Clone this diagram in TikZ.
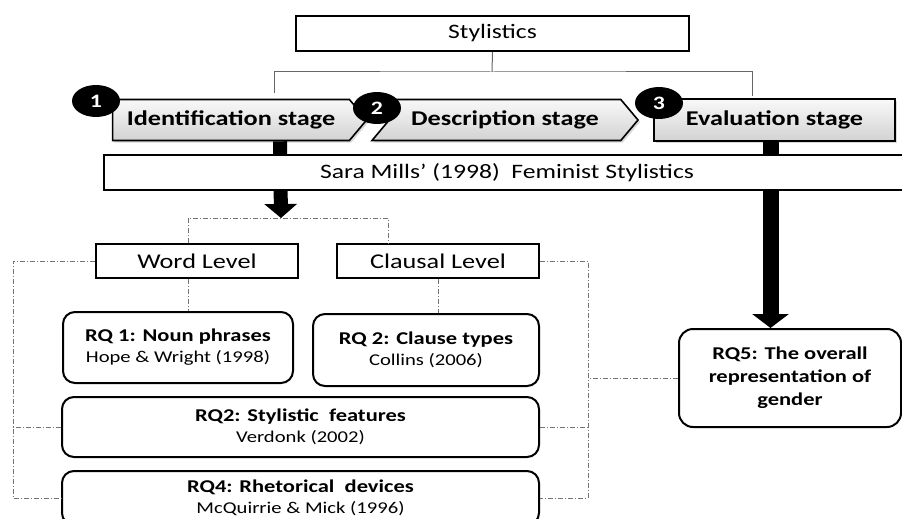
\documentclass[tikz,border=0pt]{standalone}
\usepackage{fontspec}
\setmainfont{Carlito}[FakeStretch=1.25]
\usetikzlibrary{shapes.geometric, shapes.symbols, arrows.meta, shadows}

\newcommand{\rqhead}[1]{{\bfseries\fontsize{18}{21}\selectfont #1}}

\begin{document}
\begin{tikzpicture}[
        x=1pt, y=-1pt,
        topbox/.style={rectangle, draw=black, line width=1.6pt, fill=white, minimum height=35pt, font=\fontsize{20.5}{24}\selectfont},
        stage/.style={draw=black, line width=1.6pt, top color=gray!5, bottom color=gray!35, minimum height=41pt, inner sep=2pt, font=\bfseries\fontsize{21}{24}\selectfont, drop shadow={shadow xshift=2pt, shadow yshift=-2pt, opacity=0.3}},
        number/.style={ellipse, fill=black, text=white, minimum width=48pt, minimum height=32pt, inner sep=0pt, font=\bfseries\fontsize{19}{20}\selectfont},
        level/.style={rectangle, draw=black, line width=1.6pt, fill=white, minimum width=202pt, minimum height=34pt, font=\fontsize{21}{24}\selectfont},
        rq/.style={rectangle, draw=black, line width=2pt, rounded corners=12pt, fill=white, align=center, font=\fontsize{16.5}{21}\selectfont},
        tree/.style={draw=black!60, line width=1pt},
        link/.style={draw=black!55, line width=0.8pt, dash pattern=on 5pt off 2pt on 1pt off 2pt},
        bigarrow/.style={draw=black, -{Triangle[width=#1, length=14pt]}},
        bigarrow/.default=32pt
    ]
        \useasboundingbox (0,0) rectangle (902,519);
        \clip (0,0) rectangle (902,519);

        % ================= STYLISTICS =================
        \node[topbox, minimum width=393pt] (stylistics) at (492.5,33.5) {Stylistics};

        \coordinate (fork) at (492,72);
        \coordinate (forkL) at (274,93);
        \coordinate (forkR) at (752,96);
        \draw[tree] (stylistics.south) -- (fork);
        \draw[tree] (forkL) |- (fork) -| (forkR);

        % ================= STAGES =================
        \node[stage, signal, signal to=east, signal pointer angle=100, minimum width=254pt] (ident) at (231,120) {Identification stage};
        \node[stage, signal, signal from=west, signal to=east, signal pointer angle=100, minimum width=266pt] (descr) at (505,120) {Description stage};
        \node[stage, rectangle, minimum width=241pt, minimum height=42pt] (eval) at (774.5,120) {Evaluation stage};

        \node[number] (n1) at (96,101) {1};
        \node[number] (n2) at (377,108) {2};
        \node[number] (n3) at (659,103) {3};

        % ================= MAIN ARROWS =================
        \coordinate (split) at (281,218);
        \draw[bigarrow, line width=14pt] ([xshift=49pt]ident.south) -- (split);

        \node[rq, rounded corners=14pt, minimum width=222pt, minimum height=98pt, font=\bfseries\fontsize{18}{23}\selectfont] (rq5) at (790,378) {RQ5: The overall\\representation of\\gender};
        \draw[bigarrow=36pt, line width=16pt] ([xshift=-4pt]eval.south) -- ([xshift=-4pt]eval.south |- rq5.north);

        \node[topbox, minimum width=806pt] (mills) at (507,172.5) {Sara Mills’ (1998)~ Feminist Stylistics};

        % ================= LEVELS =================
        \node[level] (word) at (197,261) {Word Level};
        \node[level] (clausal) at (438,261) {Clausal Level};

        \draw[link] (word.north -| 188,0) |- (split) -| (clausal.north -| 388,0);

        % ================= RESEARCH QUESTIONS =================
        \node[rq, minimum width=230pt, minimum height=71pt] (rq1) at (178,347.5) {\rqhead{RQ 1: Noun phrases}\\Hope \& Wright (1998)};
        \node[rq, minimum width=226pt, minimum height=72pt] (rq2) at (426,350) {\rqhead{RQ 2: Clause types}\\Collins (2006)};
        \node[rq, minimum width=477pt, minimum height=60pt] (feat) at (300.5,427) {\rqhead{RQ2: Stylistic~ features}\\Verdonk (2002)};
        \node[rq, minimum width=477pt, minimum height=54pt] (rq4) at (300.5,498) {\rqhead{RQ4: Rhetorical~ devices}\\McQuirrie \& Mick (1996)};

        \draw[link] (word.south -| 188,0) -- (rq1.north -| 188,0);
        \draw[link] (clausal.south) -- (rq2.north -| clausal.south);

        % left rail
        \coordinate (railL) at (13,0);
        \draw[link] (word.west) -- (word.west -| railL) |- (rq4.west);
        \draw[link] (feat.west) -- (feat.west -| railL);

        % right rail
        \coordinate (railR) at (588,0);
        \draw[link] (clausal.east) -- (clausal.east -| railR) |- (rq4.east);
        \draw[link] (feat.east) -- (feat.east -| railR);
        \draw[link] (rq5.west) -- (rq5.west -| railR);

    \end{tikzpicture}
\end{document}
